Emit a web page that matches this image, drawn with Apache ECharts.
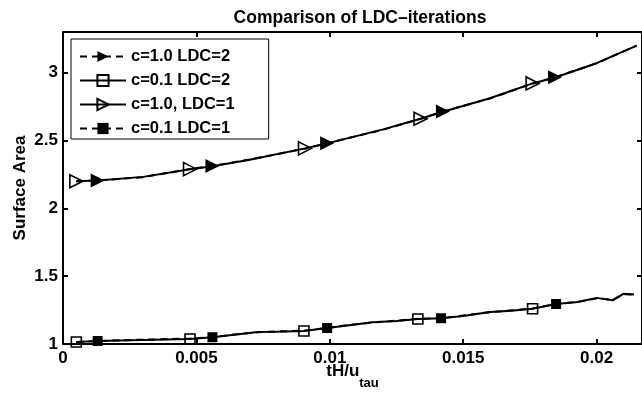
<!DOCTYPE html>
<html>
<head>
<meta charset="utf-8">
<script src="https://cdn.jsdelivr.net/npm/echarts@6/dist/echarts.min.js"></script>
<style>html,body{margin:0;padding:0;background:#fff}#c{width:642px;height:396px}</style>
</head>
<body>
<div id="c"></div>
<script>
// ---- data ----
var titleText = 'Comparison of LDC\u2013iterations';
var xTicks = [0, 0.005, 0.01, 0.015, 0.02];
var yTicks = [1, 1.5, 2, 2.5, 3];
var seriesNames = ['c=1.0 LDC=2', 'c=0.1 LDC=2', 'c=1.0, LDC=1', 'c=0.1 LDC=1'];

var upperX = [0.0005, 0.0013, 0.003, 0.00476, 0.0056, 0.007, 0.00907, 0.0099, 0.012, 0.0134, 0.01424, 0.016, 0.0176, 0.01844, 0.020, 0.0215];
var c10ldc2Y = [2.20, 2.205, 2.23, 2.29, 2.312, 2.36, 2.44, 2.48, 2.58, 2.66, 2.714, 2.81, 2.92, 2.966, 3.07, 3.20];
var c10ldc1Y = [2.20, 2.205, 2.232, 2.289, 2.31, 2.358, 2.442, 2.479, 2.582, 2.661, 2.712, 2.812, 2.921, 2.965, 3.07, 3.20];

var lowerX = [0.0005, 0.0013, 0.003, 0.00476, 0.0056, 0.0065, 0.0073, 0.008, 0.00903, 0.0099, 0.0108, 0.0116, 0.0125, 0.0133, 0.01417, 0.015, 0.016, 0.0168, 0.0176, 0.01848, 0.0193, 0.02, 0.0206, 0.021, 0.0214];
var c01ldc2Y = [1.015, 1.022, 1.03, 1.037, 1.05, 1.07, 1.088, 1.09, 1.096, 1.118, 1.14, 1.16, 1.17, 1.184, 1.19, 1.206, 1.236, 1.245, 1.26, 1.295, 1.31, 1.34, 1.322, 1.37, 1.365];
var c01ldc1Y = [1.015, 1.022, 1.032, 1.04, 1.05, 1.072, 1.086, 1.093, 1.098, 1.118, 1.142, 1.158, 1.172, 1.186, 1.19, 1.21, 1.234, 1.248, 1.262, 1.295, 1.312, 1.336, 1.326, 1.366, 1.365];

// marker positions (x values where a marker is drawn)
var markersA = [0.0005, 0.00476, 0.00907, 0.0134, 0.0176];   // open triangles (upper)
var markersB = [0.0013, 0.0056, 0.0099, 0.01424, 0.01844];  // filled triangles (upper)
var markersC = [0.0005, 0.00476, 0.00903, 0.0133, 0.0176];   // open squares (lower)
var markersD = [0.0013, 0.0056, 0.0099, 0.01417, 0.01848];  // filled squares (lower)

function build(xs, ys, marks) {
  return xs.map(function (x, i) {
    var item = { value: [x, ys[i]] };
    if (marks.indexOf(x) < 0) item.symbol = 'none';
    return item;
  });
}

var FONT = 'Liberation Sans';
var chart = echarts.init(document.getElementById('c'), null, { renderer: 'canvas' });

var axisCommon = {
  axisLine: { show: true, onZero: false, lineStyle: { color: '#000', width: 2 } },
  axisTick: { show: true, inside: true, length: 5, lineStyle: { color: '#000', width: 2 } },
  splitLine: { show: false }
};

function lineSeries(name, data, dashed, symbol, size, filled, rotate) {
  return {
    name: name, type: 'line', data: data,
    showSymbol: true, showAllSymbol: true,
    symbol: symbol, symbolSize: size, symbolRotate: rotate || 0,
    lineStyle: { color: '#000', width: 2, type: dashed ? [7, 5] : 'solid' },
    itemStyle: { color: filled ? '#000' : 'rgba(0,0,0,0)', borderColor: '#000', borderWidth: filled ? 0 : 1.6 },
    emphasis: { disabled: true },
    animation: false, z: 3
  };
}

chart.setOption({
  animation: false,
  title: {
    text: titleText, left: 355, top: 4, textAlign: 'center',
    textStyle: { fontFamily: FONT, fontWeight: 'bold', fontSize: 17.5, color: '#000' }
  },
  grid: { left: 63, top: 32, right: 0, bottom: 52, containLabel: false, outerBoundsMode: 'none' },
  legend: {
    orient: 'vertical', left: 71, top: 39,
    padding: [9, 34, 2, 8], itemGap: 7, itemWidth: 46, itemHeight: 14,
    backgroundColor: '#fff', borderColor: '#000', borderWidth: 1,
    textStyle: { fontFamily: FONT, fontWeight: 'bold', fontSize: 16.5, color: '#000', lineHeight: 16 },
    data: seriesNames
  },
  xAxis: [
    Object.assign({
      type: 'value', min: 0, max: 0.0217, interval: 0.005, position: 'bottom',
      name: '{m|tH/u}{s|tau}', nameLocation: 'middle', nameGap: 19, nameMoveOverlap: false,
      nameTextStyle: { rich: {
        m: { fontFamily: FONT, fontWeight: 'bold', fontSize: 17, color: '#000', verticalAlign: 'top' },
        s: { fontFamily: FONT, fontWeight: 'bold', fontSize: 13, color: '#000', padding: [14, 0, 0, 0], verticalAlign: 'top' }
      } },
      axisLabel: { fontFamily: FONT, fontWeight: 'bold', fontSize: 17, color: '#000', margin: 6, showMaxLabel: false,
        formatter: function (v) { return xTicks.indexOf(+v.toFixed(4)) >= 0 ? String(+v.toFixed(4)) : ''; } }
    }, axisCommon),
    Object.assign({
      type: 'value', min: 0, max: 0.0217, interval: 0.005, position: 'top',
      axisLabel: { show: false }
    }, axisCommon)
  ],
  yAxis: [
    Object.assign({
      type: 'value', min: 1, max: 3.3, interval: 0.5, position: 'left',
      name: 'Surface Area', nameLocation: 'middle', nameGap: 34, nameMoveOverlap: false,
      nameTextStyle: { fontFamily: FONT, fontWeight: 'bold', fontSize: 17, color: '#000' },
      axisLabel: { fontFamily: FONT, fontWeight: 'bold', fontSize: 17, color: '#000', margin: 5, showMaxLabel: false,
        formatter: function (v) { return yTicks.indexOf(+v.toFixed(2)) >= 0 ? String(+v.toFixed(2)) : ''; } }
    }, axisCommon),
    Object.assign({
      type: 'value', min: 1, max: 3.3, interval: 0.5, position: 'right',
      axisLabel: { show: false }
    }, axisCommon)
  ],
  series: [
    lineSeries(seriesNames[0], build(upperX, c10ldc2Y, markersB), true, 'triangle', 14, true, -90),
    lineSeries(seriesNames[1], build(lowerX, c01ldc2Y, markersC), false, 'rect', 10, false, 0),
    lineSeries(seriesNames[2], build(upperX, c10ldc1Y, markersA), false, 'triangle', 13, false, -90),
    lineSeries(seriesNames[3], build(lowerX, c01ldc1Y, markersD), true, 'rect', 10, true, 0)
  ]
});
</script>
</body>
</html>
